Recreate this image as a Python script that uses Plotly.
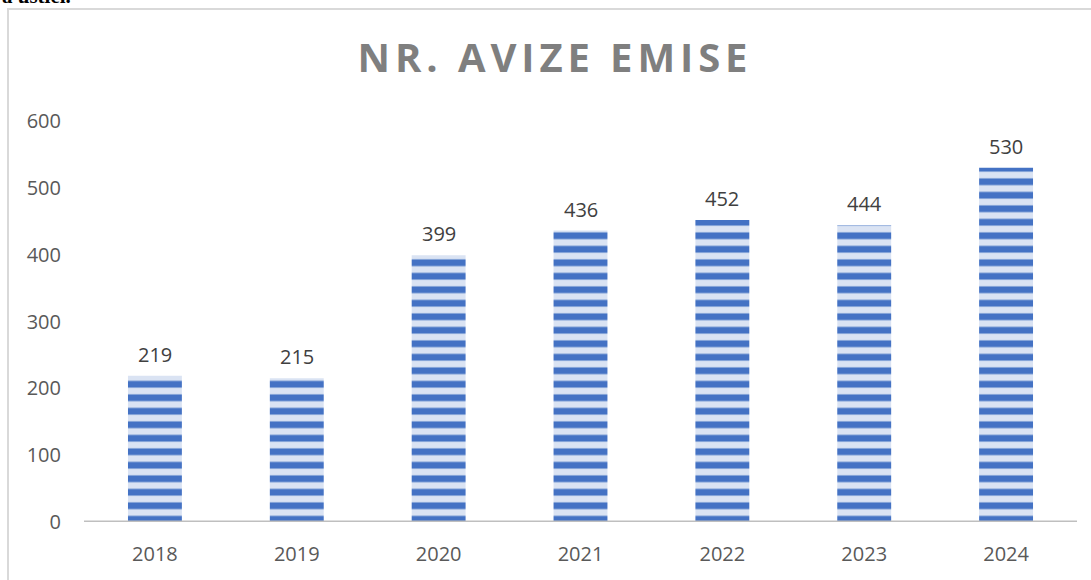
import plotly.graph_objects as go

# ---- data ----
years = ["2018", "2019", "2020", "2021", "2022", "2023", "2024"]
avize = [219, 215, 399, 436, 452, 444, 530]
y_ticks = [0, 100, 200, 300, 400, 500, 600]
title_text = "NR. AVIZE EMISE"

# ---- layout geometry (pixels) ----
W, H = 1091, 580
L, R, T, B = 84, 1091 - 1077, 121, 580 - 522
PW, PH = W - L - R, H - T - B


def px2x(px):
    return (px - L) / PW


def px2y(py):
    return (H - B - py) / PH


BLUE = "#4472C4"
LIGHT = "#DAE3F3"
FONT = "Open Sans"

fig = go.Figure()
fig.add_trace(go.Bar(
    x=years,
    y=avize,
    marker=dict(
        color=LIGHT,
        line=dict(width=0),
        pattern=dict(shape="-", fgcolor=BLUE, bgcolor=LIGHT,
                     size=13.5, solidity=0.5, fillmode="replace"),
    ),
    hoverinfo="x+y",
    cliponaxis=False,
))

annotations = []
for i, v in enumerate(avize):
    annotations.append(dict(
        x=i, y=v, xref="x", yref="y", text=str(v), showarrow=False,
        yanchor="bottom", yshift=6,
        font=dict(family=FONT, size=20, color="#404040"),
    ))

# cut-off document text at top-left
annotations.append(dict(
    x=px2x(0), y=px2y(-4), xref="paper", yref="paper", text="a ustiei.",
    showarrow=False, xanchor="left", yanchor="middle",
    font=dict(family="Liberation Serif", size=21, color="#000000", weight="bold"),
))

shapes = [
    # chart frame
    dict(type="rect", xref="paper", yref="paper",
         x0=px2x(8), x1=px2x(1120), y0=px2y(9), y1=px2y(620),
         line=dict(color="#D9D9D9", width=2), fillcolor="rgba(0,0,0,0)", layer="below"),
    # category axis line
    dict(type="line", xref="paper", yref="y",
         x0=0, x1=1, y0=0, y1=0,
         line=dict(color="#BFBFBF", width=3), layer="above"),
]

fig.update_layout(
    width=W, height=H,
    margin=dict(l=L, r=R, t=T, b=B, pad=0),
    paper_bgcolor="white", plot_bgcolor="white",
    bargap=0.62,
    showlegend=False,
    title=dict(
        text=title_text,
        xref="container", yref="container",
        x=555 / W, y=1 - 58 / H, xanchor="center", yanchor="middle",
        font=dict(family=FONT, size=40, color="#7F7F7F", weight="bold"),
    ),
    xaxis=dict(
        type="category", range=[-0.5, len(years) - 0.5],
        showgrid=False, zeroline=False, showline=False, ticks="",
        tickfont=dict(family=FONT, size=20, color="#595959"),
        ticklabelstandoff=18,
    ),
    yaxis=dict(
        range=[0, 600], tickvals=y_ticks, showgrid=False, zeroline=False,
        showline=False, ticks="",
        tickfont=dict(family=FONT, size=20, color="#595959"),
        ticklabelstandoff=22,
    ),
    annotations=annotations,
    shapes=shapes,
)

post = """
var el = document.getElementById('{plot_id}');
el.querySelectorAll('.gtitle').forEach(function(t){
  t.style.letterSpacing = '4.9px';
});
"""

fig.write_html("out.html", post_script=post)
